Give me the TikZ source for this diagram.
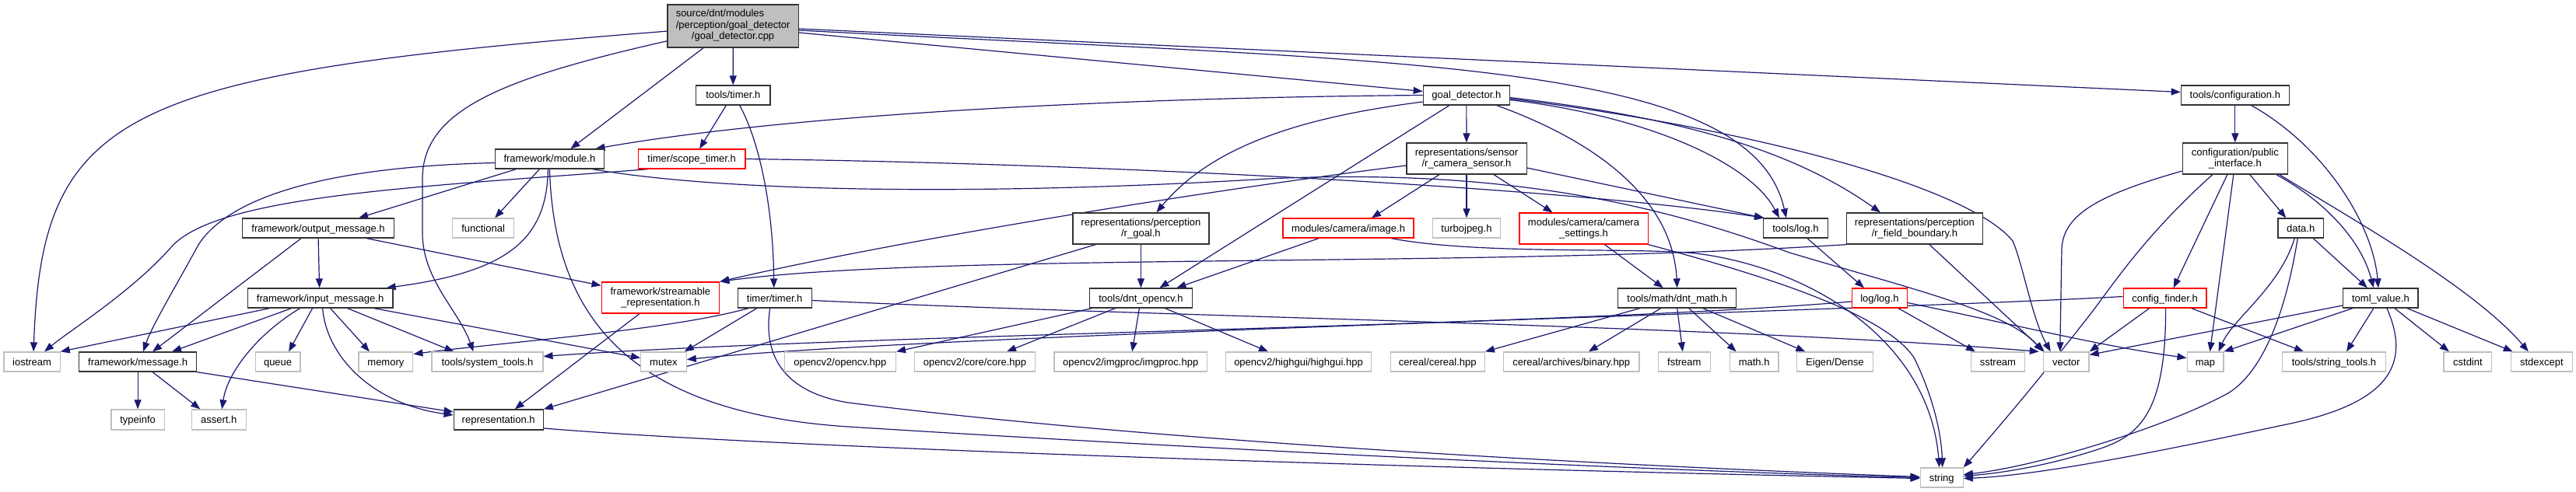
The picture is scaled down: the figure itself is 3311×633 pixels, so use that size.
\documentclass[tikz,border=0pt]{standalone}
\usepackage{fontspec}
\newfontfamily\nf{Liberation Sans}
\usetikzlibrary{arrows.meta}
\definecolor{edgec}{HTML}{191970}
\definecolor{grayb}{HTML}{BFBFBF}
\definecolor{nodeb}{HTML}{333333}
\definecolor{redb}{HTML}{FF0000}
\pgfdeclarelayer{bg}
\pgfsetlayers{bg,main}
\tikzset{
  nbase/.style={line width=1.3bp, fill=white, inner sep=0pt, text=black,
    font=\nf\fontsize{13bp}{14.5bp}\selectfont},
  one/.style={text height=10.5bp, text depth=1.5bp},
  two/.style={align=center},
  nb/.style={nbase, draw=nodeb},
  ng/.style={nbase, draw=grayb},
  nr/.style={nbase, draw=redb},
  lnk/.style={draw=edgec, line width=1.2bp, -{Triangle[length=12bp,width=9bp]}},
}
\newcommand\MyNode[7]{\node[#6, minimum width=#4bp, minimum height=#5bp] (#1) at (#2,#3) {#7};}
\begin{document}
\begin{tikzpicture}[x=1bp,y=-1bp]
\useasboundingbox (0,0) rectangle (3311,633);
% row 0
\MyNode{cpp}{942.1}{33.5}{168.5}{55}{nb,fill=grayb}{\begin{tabular}{@{}l@{}}source/dnt/modules\\/perception/goal\_detector\\\multicolumn{1}{@{}c@{}}{/goal\_detector.cpp}\end{tabular}}
% row 1
\MyNode{ttimer}{942.3}{122.5}{95.4}{25}{nb,one}{tools/timer.h}
\MyNode{gdh}{1884.8}{122.5}{111}{25}{nb,one}{goal\_detector.h}
\MyNode{conf}{2872.8}{122.5}{139}{25}{nb,one}{tools/configuration.h}
% row 2
\MyNode{module}{706.4}{204.5}{140}{25}{nb,one}{framework/module.h}
\MyNode{scopet}{889.1}{204.5}{137.5}{25}{nr,one}{timer/scope\_timer.h}
\MyNode{camsen}{1885}{204}{154.3}{40}{nb,two}{representations/sensor\\/r\_camera\_sensor.h}
\MyNode{pubif}{2872.8}{204}{135.2}{40}{nb,two}{configuration/public\\\_interface.h}
% row 3
\MyNode{outmsg}{409.1}{293.5}{194.6}{25}{nb,one}{framework/output\_message.h}
\MyNode{functional}{621.1}{293.5}{78.6}{25}{ng,one}{functional}
\MyNode{rgoal}{1466.4}{294}{175}{40}{nb,two}{representations/perception\\/r\_goal.h}
\MyNode{image}{1733}{293.5}{168.2}{25}{nr,one}{modules/camera/image.h}
\MyNode{turbo}{1885}{293.5}{86.4}{25}{ng,one}{turbojpeg.h}
\MyNode{camset}{2035.5}{294}{165.3}{40}{nr,two}{modules/camera/camera\\\_settings.h}
\MyNode{tlog}{2307.9}{293.5}{82.9}{25}{nb,one}{tools/log.h}
\MyNode{rfield}{2460.9}{294}{174.6}{40}{nb,two}{representations/perception\\/r\_field\_boundary.h}
\MyNode{data}{2957.2}{293.5}{58.4}{25}{nb,one}{data.h}
% row 4
\MyNode{inmsg}{411.6}{383.5}{186.8}{25}{nb,one}{framework/input\_message.h}
\MyNode{stream}{848.9}{383}{151.4}{40}{nr,two}{framework/streamable\\\_representation.h}
\MyNode{timer}{995.7}{383.5}{95}{25}{nb,one}{timer/timer.h}
\MyNode{dcv}{1466.4}{383.5}{132.1}{25}{nb,one}{tools/dnt\_opencv.h}
\MyNode{dmath}{2155.7}{383.5}{152.2}{25}{nb,one}{tools/math/dnt\_math.h}
\MyNode{loglog}{2415.9}{383.5}{71}{25}{nr,one}{log/log.h}
\MyNode{cfind}{2782.6}{383.5}{106.8}{25}{nr,one}{config\_finder.h}
\MyNode{toml}{3059.9}{383.5}{96.3}{25}{nb,one}{toml\_value.h}
% row 5
\MyNode{iostream}{41.1}{465.5}{72.1}{25}{ng,one}{iostream}
\MyNode{message}{177.1}{465.5}{150.7}{25}{nb,one}{framework/message.h}
\MyNode{queue}{357.1}{465.5}{57.9}{25}{ng,one}{queue}
\MyNode{memory}{495.9}{465.5}{69.6}{25}{ng,one}{memory}
\MyNode{systools}{626.4}{465.5}{142.9}{25}{ng,one}{tools/system\_tools.h}
\MyNode{mutex}{852.9}{465.5}{58.5}{25}{ng,one}{mutex}
\MyNode{cvhpp}{1079.8}{465.5}{143.2}{25}{ng,one}{opencv2/opencv.hpp}
\MyNode{corehpp}{1253}{465.5}{155.3}{25}{ng,one}{opencv2/core/core.hpp}
\MyNode{imgproc}{1453.2}{465.5}{196.4}{25}{ng,one}{opencv2/imgproc/imgproc.hpp}
\MyNode{highgui}{1669}{465.5}{187.1}{25}{ng,one}{opencv2/highgui/highgui.hpp}
\MyNode{cereal}{1847.7}{465.5}{121.1}{25}{ng,one}{cereal/cereal.hpp}
\MyNode{binary}{2019.8}{465.5}{174.6}{25}{ng,one}{cereal/archives/binary.hpp}
\MyNode{fstream}{2164.8}{465.5}{66.8}{25}{ng,one}{fstream}
\MyNode{mathh}{2254.6}{465.5}{62.9}{25}{ng,one}{math.h}
\MyNode{eigen}{2358.4}{465.5}{97.5}{25}{ng,one}{Eigen/Dense}
\MyNode{sstream}{2567.9}{465.5}{69.3}{25}{ng,one}{sstream}
\MyNode{vector}{2655.7}{465.5}{58.6}{25}{ng,one}{vector}
\MyNode{map}{2834.5}{465.5}{46.7}{25}{ng,one}{map}
\MyNode{strtools}{3000}{465.5}{132.5}{25}{ng,one}{tools/string\_tools.h}
\MyNode{cstdint}{3171.9}{465.5}{61.6}{25}{ng,one}{cstdint}
\MyNode{stdexcept}{3266.8}{465.5}{79.1}{25}{ng,one}{stdexcept}
% row 6
\MyNode{typeinfo}{177.1}{540}{68.5}{26}{ng,one}{typeinfo}
\MyNode{assert}{281.3}{540}{69.7}{26}{ng,one}{assert.h}
\MyNode{repr}{640.7}{540}{115}{26}{nb,one}{representation.h}
% row 7
\MyNode{string}{2495.7}{614.5}{55}{25}{ng,one}{string}

\begin{pgfonlayer}{bg}
\fill[white] (0,0) rectangle (3311,633);
% cpp
\draw[lnk] (cpp) .. controls (160,95) and (54,140) .. ([xshift=2bp]iostream.north);
\draw[lnk] (cpp) .. controls (650,100) and (543,140) .. (543,230) -- (543,300) .. controls (543,360) and (590,400) .. ([xshift=-18bp]systools.north);
\draw[lnk] ([xshift=-38bp]cpp.south) -- ([xshift=27bp]module.north);
\draw[lnk] (cpp) -- (ttimer);
\draw[lnk] ([yshift=-8.5bp]cpp.east) -- ([yshift=5bp]gdh.west);
\draw[lnk] ([yshift=-5.5bp]cpp.east) .. controls (1800,80) and (2250,75) .. ([xshift=-12bp]tlog.north);
\draw[lnk] ([yshift=-3.5bp]cpp.east) -- ([yshift=4bp]conf.west);
% tools/timer.h
\draw[lnk] ([xshift=-9bp]ttimer.south) -- ([xshift=10bp]scopet.north);
\draw[lnk] ([xshift=8.5bp]ttimer.south) .. controls (980,190) and (994,280) .. ([xshift=-1bp]timer.north);
% goal_detector.h
\draw[lnk] (gdh.west) .. controls (1400,126) and (1000,150) .. ([xshift=59bp]module.north);
\draw[lnk] (gdh) -- (camsen);
\draw[lnk] ([yshift=-8.5bp]gdh.west) .. controls (1680,150) and (1560,185) .. ([xshift=20bp]rgoal.north);
\draw[lnk] ([xshift=-22bp]gdh.south) -- ([xshift=24bp]dcv.north);
\draw[lnk] ([xshift=39bp]gdh.south) .. controls (2060,185) and (2150,260) .. (dmath.north);
\draw[lnk] ([yshift=-6bp]gdh.east) .. controls (2120,150) and (2250,210) .. ([xshift=-21bp]tlog.north);
\draw[lnk] ([yshift=-3bp]gdh.east) .. controls (2150,150) and (2300,190) .. ([xshift=-44bp]rfield.north);
\draw[lnk] ([yshift=-4.5bp]gdh.east) .. controls (2250,165) and (2530,240) .. (2587,310) .. controls (2600,340) and (2612,410) .. ([xshift=-20bp]vector.north);
% tools/configuration.h
\draw[lnk] (conf) -- (pubif);
\draw[lnk] ([xshift=21bp]conf.south) .. controls (2990,190) and (3050,290) .. ([xshift=-3bp]toml.north);
% framework/module.h
\draw[lnk] ([xshift=-13bp]module.south) -- ([xshift=15bp]functional.north);
\draw[lnk] ([xshift=-43bp]module.south) -- ([xshift=52bp]outmsg.north);
\draw[lnk] ([xshift=-2bp]module.south) .. controls (703,310) and (650,350) .. ([xshift=85bp]inmsg.north);
\draw[lnk] ([yshift=-5bp]module.west) .. controls (400,215) and (290,260) .. (255,315) .. controls (225,370) and (195,420) .. ([xshift=7bp]message.north);
\draw[lnk] (module.south) .. controls (712,400) and (800,530) .. (1090,549) .. controls (1500,575) and (2100,605) .. (string.west);
\draw[lnk] ([xshift=55bp]module.south) .. controls (950,250) and (1300,250) .. (1630,230) .. controls (1950,215) and (2150,270) .. (2300,325) .. controls (2450,370) and (2580,400) .. (vector.north west);
% timer/scope_timer.h
\draw[lnk] ([xshift=-56bp]scopet.south) .. controls (550,240) and (280,250) .. (220,318) .. controls (170,375) and (90,425) .. ([xshift=16bp]iostream.north);
\draw[lnk] (scopet.east) .. controls (1400,210) and (2000,240) .. ([xshift=2bp]tlog.north west);
% r_camera_sensor.h
\draw[lnk] ([xshift=-35bp]camsen.south) -- ([xshift=30bp]image.north);
\draw[lnk] (camsen) -- (turbo);
\draw[lnk] ([xshift=35bp]camsen.south) -- ([xshift=-40bp]camset.north);
\draw[lnk] ([yshift=-9bp]camsen.west) .. controls (1550,245) and (1150,310) .. (stream.north east);
\draw[lnk] ([yshift=-12bp]camsen.east) -- ([xshift=1bp]tlog.north west);
% public_interface.h
\draw[lnk] ([yshift=-16bp]pubif.west) .. controls (2700,250) and (2652,275) .. (2650,320) -- ([xshift=-8bp]vector.north);
\draw[lnk] ([xshift=-29bp]pubif.south) .. controls (2760,300) and (2720,360) .. (2690,400) .. controls (2620,490) and (2560,560) .. (string.north east);
\draw[lnk] ([xshift=-10bp]pubif.south) -- ([xshift=11bp]cfind.north);
\draw[lnk] ([xshift=-2bp]pubif.south) -- ([xshift=6bp]map.north);
\draw[lnk] ([xshift=19bp]pubif.south) -- ([xshift=-19bp]data.north);
\draw[lnk] ([xshift=53bp]pubif.south) .. controls (2990,260) and (3035,310) .. ([xshift=-9bp]toml.north);
\draw[lnk] ([xshift=57bp]pubif.south) .. controls (3020,280) and (3180,370) .. ([xshift=-17bp]stdexcept.north);
% output_message.h
\draw[lnk] ([xshift=-22bp]outmsg.south) -- ([xshift=19bp]message.north);
\draw[lnk] (outmsg.south) -- ([xshift=-1bp]inmsg.north);
\draw[lnk] ([xshift=62bp]outmsg.south) -- ([yshift=-5bp]stream.north west);
% input_message.h
\draw[lnk] ([xshift=-65bp]inmsg.south) -- (iostream.north east);
\draw[lnk] ([xshift=-37bp]inmsg.south) -- ([xshift=44bp]message.north);
\draw[lnk] ([xshift=-26bp]inmsg.south) .. controls (330,430) and (292,480) .. ([xshift=4bp]assert.north);
\draw[lnk] ([xshift=-10bp]inmsg.south) -- ([xshift=14bp]queue.north);
\draw[lnk] ([xshift=13bp]inmsg.south) -- ([xshift=-21bp]memory.north);
\draw[lnk] ([xshift=35bp]inmsg.south) -- ([xshift=-43bp]systools.north);
\draw[lnk] ([xshift=69bp]inmsg.south) -- ([yshift=5bp]mutex.west);
\draw[lnk] ([xshift=3bp]inmsg.south) .. controls (420,460) and (480,520) .. ([yshift=6bp]repr.west);
% message.h
\draw[lnk] (message) -- (typeinfo);
\draw[lnk] ([xshift=19bp]message.south) -- ([xshift=-24bp]assert.north);
\draw[lnk] (message.south east) -- ([yshift=10bp]repr.west);
% streamable / representation
\draw[lnk] ([xshift=-27bp]stream.south) -- ([xshift=21bp]repr.north);
\draw[lnk] ([yshift=-11bp]repr.east) .. controls (1000,576) and (1800,602) .. ([yshift=-1bp]string.west);
% timer/timer.h
\draw[lnk] ([xshift=-34bp]timer.south) .. controls (860,425) and (650,440) .. ([yshift=10bp]memory.east);
\draw[lnk] ([xshift=-23bp]timer.south) -- ([xshift=-3bp]mutex.north east);
\draw[lnk] ([xshift=-6bp]timer.south) .. controls (980,460) and (1010,505) .. (1090,518) .. controls (1500,570) and (2100,600) .. ([yshift=1bp]string.west);
\draw[lnk] ([yshift=-3bp]timer.east) .. controls (1500,408) and (2200,418) .. ([xshift=-5bp]vector.north west);
% dnt_opencv.h
\draw[lnk] ([xshift=-63bp]dcv.south) -- (cvhpp.north east);
\draw[lnk] ([xshift=-33bp]dcv.south) -- ([xshift=41bp]corehpp.north);
\draw[lnk] ([xshift=-2bp]dcv.south) -- ([xshift=2bp]imgproc.north);
\draw[lnk] ([xshift=31bp]dcv.south) -- ([xshift=-39bp]highgui.north);
% r_goal.h
\draw[lnk] (rgoal) -- (dcv);
\draw[lnk] ([xshift=30bp]rgoal.south west) -- (repr.north east);
% image.h
\draw[lnk] ([xshift=-38bp]image.south) -- ([xshift=46bp]dcv.north);
\draw[lnk] ([xshift=55bp]image.south) .. controls (1900,328) and (2100,318) .. (2180,326) .. controls (2330,345) and (2480,440) .. ([xshift=-3bp]string.north);
% camera_settings.h
\draw[lnk] ([xshift=27bp]camset.south) -- ([xshift=-18bp]dmath.north);
\draw[lnk] (camset.south east) .. controls (2250,350) and (2420,400) .. (2460,460) .. controls (2480,500) and (2495,550) .. ([xshift=1bp]string.north);
% tools/log.h
\draw[lnk] ([xshift=15bp]tlog.south) -- ([xshift=-20bp]loglog.north);
% r_field_boundary.h
\draw[lnk] (rfield.south west) .. controls (1900,345) and (1200,325) .. (stream.north east);
\draw[lnk] ([xshift=19bp]rfield.south) -- ([xshift=-28bp]vector.north);
% log/log.h
\draw[lnk] ([yshift=-4.5bp]loglog.west) .. controls (2000,420) and (1100,430) .. ([yshift=7bp]systools.east);
\draw[lnk] ([yshift=-6bp]loglog.east) .. controls (2600,420) and (2700,445) .. ([yshift=5bp]map.west);
\draw[lnk] ([xshift=24bp]loglog.south) -- ([xshift=-29bp]sstream.north);
% dnt_math.h
\draw[lnk] ([xshift=-48bp]dmath.south) -- (cereal.north east);
\draw[lnk] ([xshift=-21bp]dmath.south) -- ([xshift=22bp]binary.north);
\draw[lnk] (dmath.south) -- ([xshift=-2bp]fstream.north);
\draw[lnk] ([xshift=15bp]dmath.south) -- ([xshift=-23bp]mathh.north);
\draw[lnk] ([xshift=33bp]dmath.south) -- ([xshift=-38bp]eigen.north);
% config_finder.h
\draw[lnk] ([yshift=2bp]cfind.west) .. controls (2400,400) and (1200,430) .. ([yshift=3bp]mutex.east);
\draw[lnk] ([xshift=-20bp]cfind.south) -- (vector.north east);
\draw[lnk] ([xshift=34bp]cfind.south) -- ([xshift=-39bp]strtools.north);
\draw[lnk] ([xshift=1bp]cfind.south) .. controls (2784,530) and (2750,560) .. (2700,577) .. controls (2640,597) and (2580,608) .. ([yshift=2bp]string.east);
% data.h
\draw[lnk] ([xshift=-8bp]data.south) .. controls (2930,370) and (2870,410) .. ([xshift=17bp]map.north);
\draw[lnk] ([xshift=-4bp]data.south) .. controls (2935,420) and (2900,490) .. (2856,510) .. controls (2780,550) and (2620,600) .. ([yshift=4bp]string.east);
\draw[lnk] ([xshift=16bp]data.south) -- ([xshift=-17bp]toml.north);
% toml_value.h
\draw[lnk] ([xshift=-36bp]toml.south) -- (map.north east);
\draw[lnk] ([xshift=-9bp]toml.south) -- ([xshift=16bp]strtools.north);
\draw[lnk] ([xshift=18bp]toml.south) -- ([xshift=-24bp]cstdint.north);
\draw[lnk] ([xshift=34bp]toml.south) -- ([xshift=-37bp]stdexcept.north);
\draw[lnk] ([yshift=-9.5bp]toml.west) -- ([yshift=9bp]vector.east);
\draw[lnk] ([xshift=8bp]toml.south) .. controls (3100,470) and (3070,520) .. (2934,547) .. controls (2780,580) and (2620,612) .. ([yshift=-1bp]string.east);
\end{pgfonlayer}
\end{tikzpicture}
\end{document}
